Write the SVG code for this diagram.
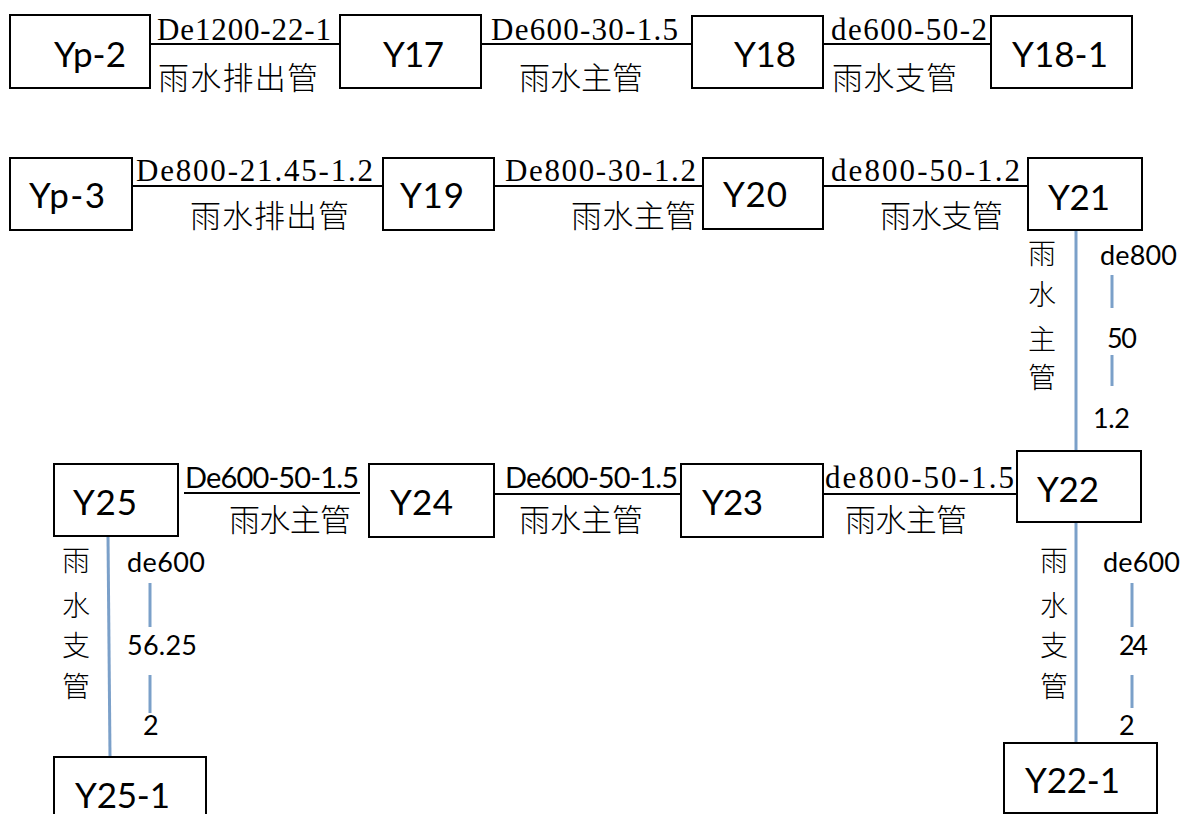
<svg xmlns="http://www.w3.org/2000/svg" width="1185" height="814" viewBox="0 0 1185 814">
<style>
.node rect{fill:#fff;stroke:#000;stroke-width:2}
.nl{font-family:Lato,"Open Sans",sans-serif;font-size:35px;fill:#000}
.ser{font-family:"Liberation Serif","Noto Sans CJK SC",serif;font-size:31px;fill:#000}
.cjk{font-family:"Noto Sans CJK SC",sans-serif;font-size:31px;font-weight:300;fill:#000}
.sans{font-family:Lato,"Open Sans",sans-serif;font-size:29px;fill:#000}
.vcjk{font-family:"Noto Sans CJK SC",sans-serif;font-size:28px;font-weight:300;fill:#000;text-anchor:middle}
.vnum{font-family:Lato,"Open Sans",sans-serif;font-size:27px;fill:#000}
.conn line{stroke:#000;stroke-width:2}
.conn .pipe{stroke:#7ba0c9;stroke-width:3}
</style>
<rect width="1185" height="814" fill="#fff"/>
<g id="connectors" class="conn">
<line x1="150" y1="44" x2="340" y2="44"/>
<line x1="481" y1="44" x2="692" y2="44"/>
<line x1="823" y1="44" x2="991" y2="44"/>
<line x1="132" y1="186" x2="383" y2="186"/>
<line x1="494" y1="186" x2="703" y2="186"/>
<line x1="823" y1="186" x2="1027" y2="186"/>
<line x1="184" y1="493" x2="360" y2="493"/>
<line x1="494" y1="494" x2="681" y2="494"/>
<line x1="823" y1="494" x2="1017" y2="494"/>
<line class="pipe" x1="1076" y1="230" x2="1076" y2="451"/>
<line class="pipe" x1="1076" y1="522" x2="1076" y2="743"/>
<line class="pipe" x1="108" y1="536" x2="110" y2="757"/>
<line class="pipe" x1="1112" y1="275" x2="1112" y2="308"/>
<line class="pipe" x1="1112" y1="355" x2="1112" y2="386"/>
<line class="pipe" x1="150" y1="583" x2="150" y2="627"/>
<line class="pipe" x1="150" y1="675" x2="150" y2="713"/>
<line class="pipe" x1="1132" y1="583" x2="1132" y2="627"/>
<line class="pipe" x1="1132" y1="675" x2="1132" y2="708"/>
</g>
<g id="labels">
<text class="ser" x="157" y="40" textLength="174">De1200-22-1</text>
<text class="cjk" x="158" y="89" textLength="160">雨水排出管</text>
<text class="ser" x="491" y="40" textLength="187">De600-30-1.5</text>
<text class="cjk" x="519" y="89" textLength="124">雨水主管</text>
<text class="ser" x="831" y="40" textLength="156">de600-50-2</text>
<text class="cjk" x="832" y="89" textLength="125">雨水支管</text>
<text class="ser" x="136" y="181" textLength="237">De800-21.45-1.2</text>
<text class="cjk" x="190" y="227" textLength="159">雨水排出管</text>
<text class="ser" x="505" y="181" textLength="191">De800-30-1.2</text>
<text class="cjk" x="571" y="227" textLength="125">雨水主管</text>
<text class="ser" x="831" y="181" textLength="189">de800-50-1.2</text>
<text class="cjk" x="880" y="227" textLength="123">雨水支管</text>
<text class="sans" x="185" y="488" textLength="174">De600-50-1.5</text>
<text class="cjk" x="229" y="531" textLength="122">雨水主管</text>
<text class="sans" x="505" y="488" textLength="173">De600-50-1.5</text>
<text class="cjk" x="519" y="531" textLength="124">雨水主管</text>
<text class="ser" x="825" y="488" textLength="189">de800-50-1.5</text>
<text class="cjk" x="845" y="531" textLength="122">雨水主管</text>
<text class="vcjk" x="1042" y="264">雨</text>
<text class="vcjk" x="1042" y="305">水</text>
<text class="vcjk" x="1042" y="350">主</text>
<text class="vcjk" x="1042" y="388">管</text>
<text class="vnum" x="1100" y="265" textLength="77">de800</text>
<text class="vnum" x="1107" y="348" textLength="30">50</text>
<text class="vnum" x="1093" y="428" textLength="37">1.2</text>
<text class="vcjk" x="76" y="571">雨</text>
<text class="vcjk" x="76" y="616">水</text>
<text class="vcjk" x="76" y="656">支</text>
<text class="vcjk" x="76" y="697">管</text>
<text class="vnum" x="127" y="572" textLength="78">de600</text>
<text class="vnum" x="127" y="655" textLength="70">56.25</text>
<text class="vnum" x="143" y="735">2</text>
<text class="vcjk" x="1054" y="571">雨</text>
<text class="vcjk" x="1054" y="616">水</text>
<text class="vcjk" x="1054" y="656">支</text>
<text class="vcjk" x="1054" y="697">管</text>
<text class="vnum" x="1103" y="572" textLength="77">de600</text>
<text class="vnum" x="1119" y="655" textLength="29">24</text>
<text class="vnum" x="1119" y="735">2</text>
</g>
<g id="n-yp2" class="node"><rect x="10" y="15" width="140" height="73"/><text class="nl" x="54" y="67" textLength="72">Yp-2</text></g>
<g id="n-y17" class="node"><rect x="340" y="15" width="141" height="73"/><text class="nl" x="383" y="67" textLength="61">Y17</text></g>
<g id="n-y18" class="node"><rect x="692" y="16" width="131" height="72"/><text class="nl" x="734" y="67" textLength="62">Y18</text></g>
<g id="n-y18-1" class="node"><rect x="991" y="16" width="141" height="72"/><text class="nl" x="1012" y="67" textLength="96">Y18-1</text></g>
<g id="n-yp3" class="node"><rect x="10" y="158" width="122" height="72"/><text class="nl" x="29" y="208" textLength="76">Yp-3</text></g>
<g id="n-y19" class="node"><rect x="383" y="158" width="111" height="72"/><text class="nl" x="400" y="208" textLength="64">Y19</text></g>
<g id="n-y20" class="node"><rect x="703" y="158" width="120" height="71"/><text class="nl" x="723" y="207" textLength="64">Y20</text></g>
<g id="n-y21" class="node"><rect x="1028" y="158" width="114" height="72"/><text class="nl" x="1048" y="210" textLength="62">Y21</text></g>
<g id="n-y22" class="node"><rect x="1017" y="451" width="124" height="71"/><text class="nl" x="1037" y="502" textLength="62">Y22</text></g>
<g id="n-y23" class="node"><rect x="681" y="464" width="142" height="73"/><text class="nl" x="702" y="515" textLength="61">Y23</text></g>
<g id="n-y24" class="node"><rect x="369" y="464" width="125" height="73"/><text class="nl" x="390" y="515" textLength="63">Y24</text></g>
<g id="n-y25" class="node"><rect x="54" y="464" width="124" height="72"/><text class="nl" x="73" y="515" textLength="64">Y25</text></g>
<g id="n-y25-1" class="node"><rect x="54" y="757" width="152" height="80"/><text class="nl" x="75" y="808" textLength="95">Y25-1</text></g>
<g id="n-y22-1" class="node"><rect x="1004" y="743" width="153" height="70"/><text class="nl" x="1025" y="793" textLength="95">Y22-1</text></g>
</svg>
